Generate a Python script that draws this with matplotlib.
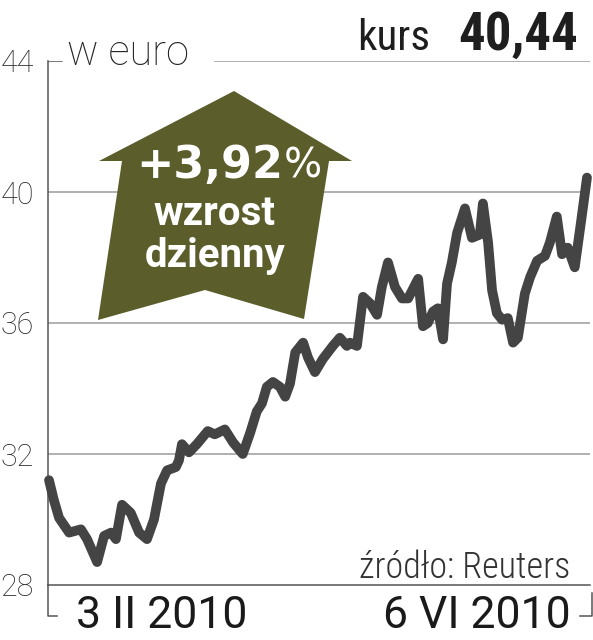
import matplotlib.pyplot as plt
from matplotlib.lines import Line2D
from matplotlib.patches import Polygon

# kurs akcji w euro, dni od 3 II 2010
days = [0, 1.1, 2.3, 4.6, 7.3, 8.7, 11.0, 12.6, 14.2, 15.3, 16.7, 18.7, 20.6, 22.4,
        24.0, 25.6, 27.0, 29.0, 29.7, 30.4, 32.0, 33.8, 36.3, 37.9, 40.2, 42.1, 44.3,
        46.0, 47.5, 48.7, 49.8, 51.2, 52.8, 54.0, 55.1, 56.3, 58.1, 59.2, 60.8, 62.6,
        64.9, 66.5, 68.1, 68.8, 70.4, 71.8, 73.4, 75.0, 76.1, 77.5, 79.1, 80.7, 82.1,
        84.4, 85.5, 86.6, 87.8, 88.9, 90.1, 91.0, 92.1, 93.3, 95.1, 96.7, 98.5, 99.2,
        100.4, 101.3, 102.4, 103.6, 104.9, 106.1, 107.2, 108.8, 110.0, 111.6, 113.4,
        114.5, 116.1, 117.3, 118.6, 120.2, 121.8, 123.0]
price = [31.2, 30.6, 30.05, 29.6, 29.7, 29.4, 28.7, 29.5, 29.6, 29.4, 30.45, 30.2, 29.6, 29.4,
         30.0, 31.1, 31.5, 31.6, 31.8, 32.3, 32.05, 32.3, 32.7, 32.6, 32.75, 32.35, 32.0,
         32.65, 33.3, 33.55, 34.05, 34.2, 34.05, 33.75, 34.15, 35.1, 35.4, 34.95, 34.5, 34.9,
         35.3, 35.55, 35.3, 35.4, 35.3, 36.8, 36.6, 36.25, 37.1, 37.85, 37.1, 36.75, 36.75,
         37.35, 35.9, 36.0, 36.35, 36.45, 35.5, 37.2, 37.85, 38.75, 39.5, 38.6, 38.7, 39.65,
         38.45, 37.0, 36.3, 36.1, 36.15, 35.4, 35.55, 36.9, 37.4, 37.9, 38.05,
         38.45, 39.25, 38.1, 38.3, 37.7, 39.25, 40.44]

y_ticks = [28, 32, 36, 40, 44]
date_labels = ['3 II 2010', '6 VI 2010']
last_close = '40,44'
daily_change = '+3,92'

W, H = 593, 640
fig = plt.figure(figsize=(W / 100, H / 100), dpi=100)
fig.patch.set_facecolor('white')

def fx(px):
    return px / W

def fy(py):
    return 1 - py / H

ax = fig.add_axes([fx(48), fy(585), 542 / W, 524 / H])

ax.plot(days, price, color='#444444', lw=7, solid_joinstyle='round',
        solid_capstyle='round', zorder=3, clip_on=False)

grid_c = '#9b9b9b'
for v in y_ticks[1:-1]:
    ax.axhline(v, color=grid_c, lw=1.1, zorder=1)
ax.axhline(y_ticks[-1], xmin=0, xmax=0.026, color='#555555', lw=1.1, zorder=1)
ax.axhline(y_ticks[-1], xmin=0.308, xmax=1, color=grid_c, lw=1.1, zorder=1)

ax.set_xlim(-0.23, 123.69)
ax.set_ylim(28, 44)
ax.set_xticks([])
ax.set_yticks(y_ticks)
ax.set_yticklabels([str(v) for v in y_ticks], fontfamily='Roboto', fontweight='light',
                   fontsize=22, color='#2a2a2a')
ax.tick_params(axis='y', length=0, pad=10)
for s in ['top', 'right']:
    ax.spines[s].set_visible(False)
for s in ['left', 'bottom']:
    ax.spines[s].set_color('#555555')
    ax.spines[s].set_linewidth(1.1)

# narożniki osi czasu
fig.add_artist(Line2D([fx(48), fx(48), fx(57)], [fy(585), fy(616), fy(616)],
                      transform=fig.transFigure, color='#555555', lw=1.1))
fig.add_artist(Line2D([fx(580), fx(592), fx(592)], [fy(616), fy(616), fy(593)],
                      transform=fig.transFigure, color='#555555', lw=1.1))

# strzałka
arrow_px = [(234, 91), (352, 161), (329, 161), (304, 319), (205, 290),
            (98, 320), (122, 161), (99, 161)]
fig.add_artist(Polygon([(fx(x), fy(y)) for x, y in arrow_px], closed=True,
                       transform=fig.transFigure, facecolor='#5b5d2b',
                       edgecolor='none', zorder=2))

fig.text(fx(283), fy(178), daily_change, ha='right', va='baseline', color='white',
         fontfamily='DejaVu Sans', fontweight='bold', fontsize=32, zorder=3)
fig.text(fx(284), fy(178), '%', ha='left', va='baseline', color='white',
         fontfamily='DejaVu Sans', fontsize=29, zorder=3)
fig.text(fx(214), fy(225), 'wzrost', ha='center', va='baseline', color='white',
         fontfamily='Roboto', fontweight='bold', fontsize=29, zorder=3)
fig.text(fx(215), fy(267), 'dzienny', ha='center', va='baseline', color='white',
         fontfamily='Roboto', fontweight='bold', fontsize=29, zorder=3)

# teksty
fig.text(fx(578), fy(50), last_close, ha='right', va='baseline', color='#1e1e1e',
         fontfamily='Roboto Condensed', fontweight='bold', fontsize=38)
fig.text(fx(430), fy(50), 'kurs', ha='right', va='baseline', color='#1e1e1e',
         fontfamily='Roboto Condensed', fontsize=31)
fig.text(fx(67), fy(65), 'w euro', ha='left', va='baseline', color='#222222',
         fontfamily='Roboto', fontweight='light', fontsize=30)
fig.text(fx(570), fy(578), 'źródło: Reuters', ha='right', va='baseline', color='#333333',
         fontfamily='Roboto Condensed', fontweight='light', fontsize=26)
fig.text(fx(76), fy(628), date_labels[0], ha='left', va='baseline', color='#1a1a1a',
         fontfamily='Roboto', fontsize=32)
fig.text(fx(571), fy(628), date_labels[1], ha='right', va='baseline', color='#1a1a1a',
         fontfamily='Roboto', fontsize=32)

fig.savefig('out.png', dpi=100)
